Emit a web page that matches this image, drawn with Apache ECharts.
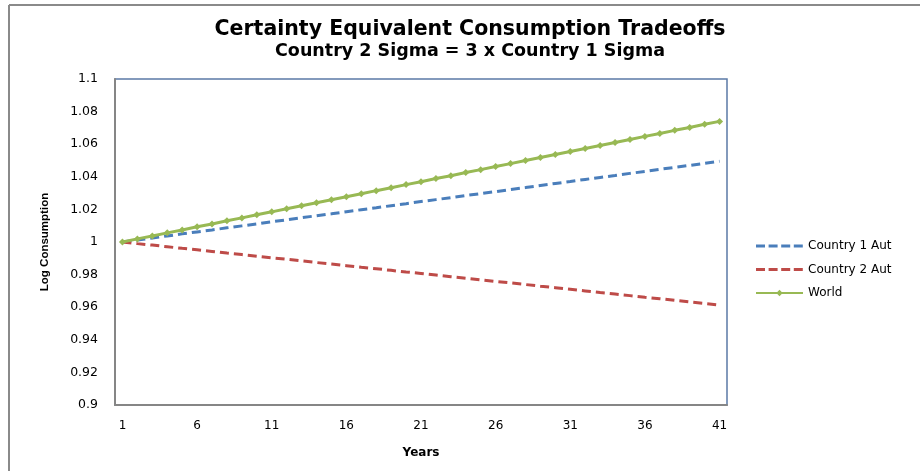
<!DOCTYPE html>
<html>
<head>
<meta charset="utf-8">
<script src="https://cdn.jsdelivr.net/npm/echarts@6/dist/echarts.min.js"></script>
<style>
  html, body { margin: 0; padding: 0; background: #fff; }
  #chart { width: 920px; height: 471px; }
</style>
</head>
<body>
<div id="chart"></div>
<script>
// Years on the horizontal axis
const years = ['1','2','3','4','5','6','7','8','9','10','11','12','13','14','15','16','17','18','19','20',
  '21','22','23','24','25','26','27','28','29','30','31','32','33','34','35','36','37','38','39','40','41'];

// Log consumption paths
const country1Aut = [1.0000, 1.0012, 1.0025, 1.0037, 1.0050, 1.0062, 1.0074, 1.0087, 1.0099, 1.0111,
  1.0124, 1.0136, 1.0149, 1.0161, 1.0173, 1.0186, 1.0198, 1.0210, 1.0223, 1.0235,
  1.0248, 1.0260, 1.0272, 1.0285, 1.0297, 1.0309, 1.0322, 1.0334, 1.0347, 1.0359,
  1.0371, 1.0384, 1.0396, 1.0408, 1.0421, 1.0433, 1.0446, 1.0458, 1.0470, 1.0483, 1.0495];

const country2Aut = [1.0000, 0.9990, 0.9981, 0.9971, 0.9961, 0.9952, 0.9942, 0.9932, 0.9923, 0.9913,
  0.9903, 0.9894, 0.9884, 0.9874, 0.9865, 0.9855, 0.9845, 0.9836, 0.9826, 0.9816,
  0.9807, 0.9797, 0.9787, 0.9778, 0.9768, 0.9758, 0.9749, 0.9739, 0.9729, 0.9720,
  0.9710, 0.9700, 0.9690, 0.9681, 0.9671, 0.9661, 0.9652, 0.9642, 0.9632, 0.9623, 0.9613];

const world = [1.0000, 1.0019, 1.0037, 1.0056, 1.0074, 1.0093, 1.0111, 1.0130, 1.0148, 1.0167,
  1.0185, 1.0204, 1.0222, 1.0241, 1.0259, 1.0278, 1.0296, 1.0315, 1.0333, 1.0352,
  1.0370, 1.0389, 1.0407, 1.0426, 1.0444, 1.0463, 1.0481, 1.0500, 1.0518, 1.0537,
  1.0555, 1.0574, 1.0592, 1.0611, 1.0629, 1.0648, 1.0666, 1.0685, 1.0703, 1.0722, 1.0740];

const seriesNames = ['Country 1 Aut', 'Country 2 Aut', 'World'];
const titleText = 'Certainty Equivalent Consumption Tradeoffs';
const subtitleText = 'Country 2 Sigma = 3 x Country 1 Sigma';

const chart = echarts.init(document.getElementById('chart'), null, { renderer: 'canvas' });

const labelFont = 'DejaVu Sans';
const nameFont = 'Liberation Sans';

// Legend glyphs in a 47x8 box: four dashes, or a solid stroke with a diamond.
const corners = 'M0,0h0.01v0.01h-0.01z M46.99,7.99h0.01v0.01h-0.01z ';
const dashIcon = 'path://' + corners +
  'M0,2.5h9v3h-9z M12.6,2.5h9v3h-9z M25.2,2.5h9v3h-9z M37.8,2.5h9v3h-9z';
const diamondIcon = 'path://' + corners +
  'M0,3h47v2h-47z M23.5,0.8L26.7,4L23.5,7.2L20.3,4z';

chart.setOption({
  backgroundColor: '#ffffff',
  animation: false,
  graphic: [
    // chart frame edges
    { type: 'line', shape: { x1: 9, y1: 5, x2: 920, y2: 5 }, style: { stroke: '#8a8a8a', lineWidth: 2 }, z: 10 },
    { type: 'line', shape: { x1: 9, y1: 5, x2: 9, y2: 471 }, style: { stroke: '#8a8a8a', lineWidth: 2 }, z: 10 },
    { type: 'text', style: {
        text: titleText, x: 470, y: 30, align: 'center', verticalAlign: 'middle',
        font: 'bold 20.5px ' + labelFont, fill: '#000' } },
    { type: 'text', style: {
        text: subtitleText, x: 470, y: 51, align: 'center', verticalAlign: 'middle',
        font: 'bold 17.5px ' + labelFont, fill: '#000' } }
  ],
  grid: {
    left: 115, top: 79, width: 612, height: 326,
    show: true, borderColor: '#5b7aa6', borderWidth: 1.5, backgroundColor: 'transparent'
  },
  legend: {
    orient: 'vertical',
    left: 751, top: 235,
    itemWidth: 47, itemHeight: 8, itemGap: 11.5,
    textStyle: { fontFamily: labelFont, fontSize: 12, color: '#000' },
    data: [
      { name: seriesNames[0], icon: dashIcon },
      { name: seriesNames[1], icon: dashIcon },
      { name: seriesNames[2], icon: diamondIcon }
    ]
  },
  xAxis: {
    type: 'category',
    data: years,
    boundaryGap: true,
    axisLine: { show: true, lineStyle: { color: '#868686', width: 2 } },
    axisTick: { show: false },
    axisLabel: { interval: 4, margin: 15, fontFamily: labelFont, fontSize: 12, color: '#000' },
    name: 'Years',
    nameLocation: 'middle',
    nameGap: 42,
    nameTextStyle: { fontFamily: labelFont, fontSize: 12, fontWeight: 'bold', color: '#000' },
    splitLine: { show: false }
  },
  yAxis: {
    type: 'value',
    min: 0.9, max: 1.1, interval: 0.02,
    axisLine: { show: true, lineStyle: { color: '#868686', width: 2 } },
    axisTick: { show: false },
    splitLine: { show: false },
    axisLabel: {
      margin: 17, fontFamily: labelFont, fontSize: 12.5, color: '#000',
      formatter: v => String(+v.toFixed(2))
    },
    name: 'Log Consumption',
    nameLocation: 'middle',
    nameGap: 64,
    nameTextStyle: { fontFamily: nameFont, fontSize: 11.5, fontWeight: 'bold', color: '#000' }
  },
  series: [
    {
      name: seriesNames[0], type: 'line', data: country1Aut,
      symbol: 'none', smooth: false,
      lineStyle: { color: '#4a7ebb', width: 3, type: [9, 5] },
      itemStyle: { color: '#4a7ebb' }
    },
    {
      name: seriesNames[1], type: 'line', data: country2Aut,
      symbol: 'none', smooth: false,
      lineStyle: { color: '#be4b48', width: 3, type: [9, 5] },
      itemStyle: { color: '#be4b48' }
    },
    {
      name: seriesNames[2], type: 'line', data: world,
      symbol: 'diamond', symbolSize: 7, showSymbol: true,
      lineStyle: { color: '#98b954', width: 3 },
      itemStyle: { color: '#98b954' }
    }
  ]
});
</script>
</body>
</html>
